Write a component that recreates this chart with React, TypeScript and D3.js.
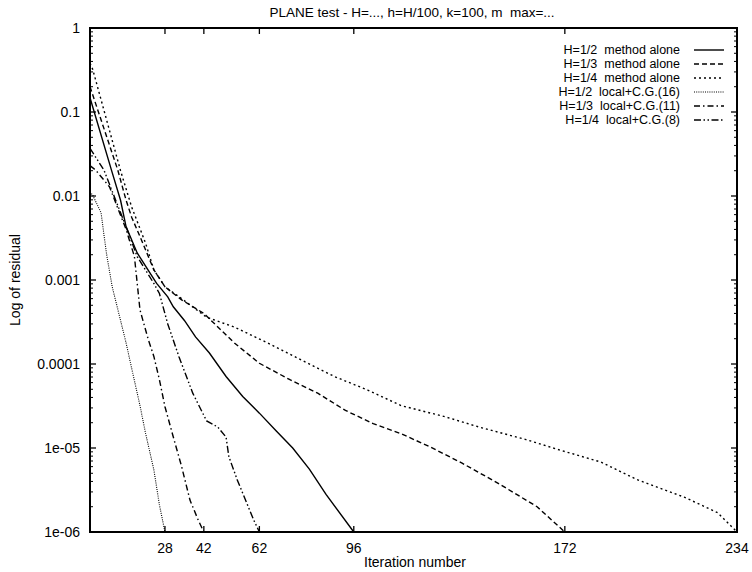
import React from 'react'
import * as d3 from 'd3'

// iteration ticks actually labelled on the plot
const xTicks = [28, 42, 62, 96, 172, 234]
const yTicks = [1, 0.1, 0.01, 0.001, 0.0001, 0.00001, 0.000001]
const yTickLabels = ['1', '0.1', '0.01', '0.001', '0.0001', '1e-05', '1e-06']

// H=1/2 method alone
const itAlone12 = [1, 9, 12, 14, 18, 22, 25, 29, 31, 35, 39, 44, 50, 56, 62, 68, 74, 80, 86, 96]
const resAlone12 = [0.148, 0.019, 0.0089, 0.0043, 0.0021, 0.0013, 0.00091, 0.00063, 0.00048, 0.00033, 0.00021,
  0.000135, 7.1e-5, 4.1e-5, 2.6e-5, 1.6e-5, 1.0e-5, 5.6e-6, 2.8e-6, 1e-6]

// H=1/3 method alone
const itAlone13 = [1, 11, 14, 16, 20, 24, 28, 34, 42, 53, 62, 73, 83, 93, 103, 113, 123, 135, 148, 162, 172]
const resAlone13 = [0.2, 0.0204, 0.0089, 0.0056, 0.00275, 0.00132, 0.00083, 0.00058, 0.0004, 0.000178, 0.000102,
  6.5e-5, 4.5e-5, 2.8e-5, 1.95e-5, 1.48e-5, 1.05e-5, 6.6e-6, 3.8e-6, 2.0e-6, 1e-6]

// H=1/4 method alone
const itAlone14 = [1, 2, 12, 16, 21, 24, 28, 34, 43, 53, 65, 77, 89, 101, 113, 129, 141, 158, 170, 185, 198, 215, 227, 234]
const resAlone14 = [0.38, 0.32, 0.02, 0.0074, 0.00275, 0.00132, 0.00083, 0.0006, 0.00036, 0.000275, 0.000178, 0.000112,
  7.1e-5, 4.9e-5, 3.2e-5, 2.35e-5, 1.78e-5, 1.26e-5, 9.5e-6, 6.8e-6, 4.2e-6, 2.6e-6, 1.7e-6, 1e-6]

// H=1/2 local+C.G.(16)
const itLocal12 = [1, 2, 5, 6, 7, 9, 12, 14, 16, 19, 21, 24, 26, 28]
const resLocal12 = [0.0112, 0.0102, 0.0063, 0.0035, 0.002, 0.00083, 0.00033, 0.000178, 8.9e-5, 3.2e-5, 1.5e-5,
  5.5e-6, 2.1e-6, 1e-6]

// H=1/3 local+C.G.(11)
const itLocal13 = [1, 3, 8, 14, 17, 19, 22, 24, 26, 28, 31, 34, 37, 40, 42]
const resLocal13 = [0.023, 0.0204, 0.0129, 0.004, 0.0019, 0.00044, 0.000195, 0.000123, 6.5e-5, 3.1e-5, 1.35e-5,
  6.0e-6, 2.4e-6, 1.38e-6, 1e-6]

// H=1/4 local+C.G.(8)
const itLocal14 = [1, 6, 14, 18, 24, 26, 29, 33, 38, 43, 47, 50, 51, 54, 57, 60, 62]
const resLocal14 = [0.037, 0.0204, 0.0043, 0.0019, 0.00091, 0.00069, 0.0003, 0.000123, 4.5e-5, 2.1e-5, 1.78e-5,
  1.35e-5, 7.9e-6, 4.2e-6, 2.4e-6, 1.38e-6, 1e-6]

const seriesNames = [
  'H=1/2  method alone',
  'H=1/3  method alone',
  'H=1/4  method alone',
  'H=1/2  local+C.G.(16)',
  'H=1/3  local+C.G.(11)',
  'H=1/4  local+C.G.(8)',
]
const seriesIts = [itAlone12, itAlone13, itAlone14, itLocal12, itLocal13, itLocal14]
const seriesRes = [resAlone12, resAlone13, resAlone14, resLocal12, resLocal13, resLocal14]
const dashes = ['none', '5,3', '2,3', '1,1.2', '6,3,1.5,3', '7,2.5,1.5,2.5,1.5,2.5']

const W = 752
const H = 572
const left = 90, right = 737, top = 28, bottom = 532
const font = '"Liberation Sans", Arial, sans-serif'
const pre = { whiteSpace: 'pre' as const }

export default function App() {
  const x = d3.scaleLinear().domain([1, 234]).range([left, right])
  const y = d3.scaleLog().domain([1e-6, 1]).range([bottom, top])
  const line = d3.line<[number, number]>().x(d => x(d[0])).y(d => y(d[1]))

  const minor: number[] = []
  for (let e = -6; e < 0; e++) for (let m = 2; m <= 9; m++) minor.push(m * Math.pow(10, e))

  return <svg width={W} height={H} style={{ position: 'absolute', left: 0, top: 0, background: 'white' }}
              fontFamily={font}>
    <text x={412} y={17} fontSize={13.5} textAnchor="middle" style={pre}>PLANE test - H=..., h=H/100, k=100, m  max=...</text>

    {/* ticks */}
    {minor.map((v, i) => <g key={'m' + i} stroke="black" strokeWidth={1}>
      <line x1={left} x2={left + 3} y1={y(v)} y2={y(v)} />
      <line x1={right} x2={right - 3} y1={y(v)} y2={y(v)} />
    </g>)}
    {yTicks.map((v, i) => <g key={'y' + i}>
      <line x1={left} x2={left + 6} y1={y(v)} y2={y(v)} stroke="black" strokeWidth={1.3} />
      <line x1={right} x2={right - 6} y1={y(v)} y2={y(v)} stroke="black" strokeWidth={1.3} />
      <text x={80} y={y(v)} dy="0.35em" fontSize={14} textAnchor="end">{yTickLabels[i]}</text>
    </g>)}
    {xTicks.map(v => <g key={'x' + v}>
      <line x1={x(v)} x2={x(v)} y1={bottom} y2={bottom - 6} stroke="black" strokeWidth={1.3} />
      <line x1={x(v)} x2={x(v)} y1={top} y2={top + 6} stroke="black" strokeWidth={1.3} />
      <text x={x(v)} y={553} fontSize={14} textAnchor="middle">{v}</text>
    </g>)}

    {/* curves */}
    {seriesIts.map((its, i) => <path key={'s' + i}
      d={line(its.map((t, j) => [t, seriesRes[i][j]] as [number, number])) || ''}
      fill="none" stroke="black" strokeWidth={i === 3 ? 1.1 : 1.4}
      strokeDasharray={dashes[i]} />)}

    <rect x={left} y={top} width={right - left} height={bottom - top} fill="none" stroke="black" strokeWidth={2} />

    {/* legend */}
    {seriesNames.map((name, i) => {
      const ly = 50 + i * 14
      return <g key={'l' + i}>
        <text x={680} y={ly} dy="0.35em" fontSize={12.5} textAnchor="end" style={pre}>{name}</text>
        <line x1={694} x2={724} y1={ly} y2={ly} stroke="black" strokeWidth={i === 3 ? 1.1 : 1.4}
              strokeDasharray={dashes[i]} />
      </g>
    })}

    <text x={415} y={567} fontSize={14} textAnchor="middle">Iteration number</text>
    <text transform={`translate(20,${(top + bottom) / 2}) rotate(-90)`} fontSize={14}
          textAnchor="middle">Log of residual</text>
  </svg>
}
